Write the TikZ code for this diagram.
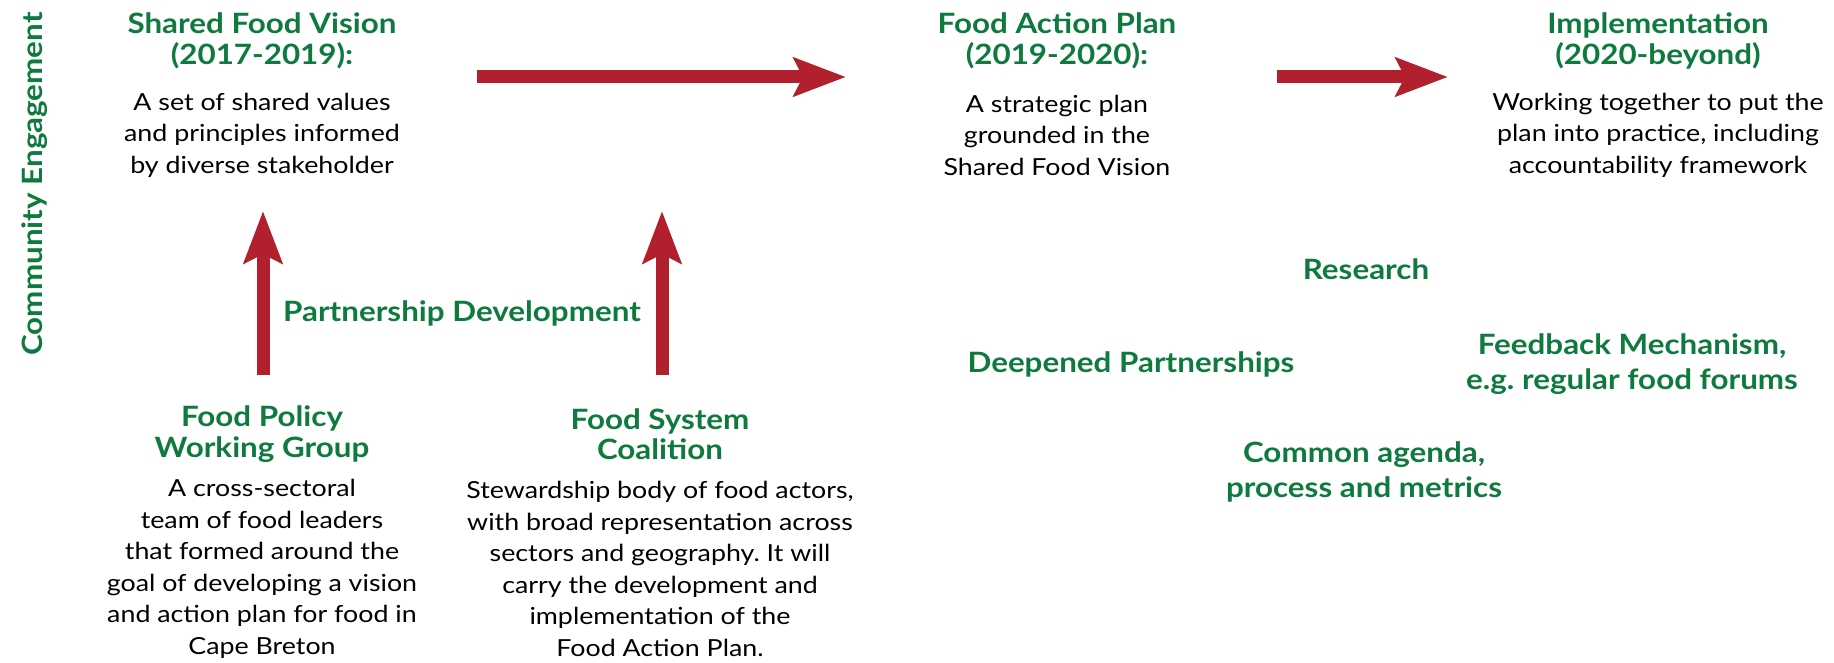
\documentclass[tikz,border=0pt]{standalone}
\usepackage{fontspec}
\setmainfont{Lato}
\newfontfamily\bodyfont[FakeStretch=1.14]{Lato}
\newfontfamily\headfont[FakeStretch=1.12]{Lato Bold}
\usetikzlibrary{arrows.meta}
\definecolor{leaf}{RGB}{14,122,62}
\definecolor{brick}{RGB}{178,32,46}
\frenchspacing
\tikzset{
  head/.style={font=\headfont\fontsize{28}{30.5}\selectfont, text=leaf, align=center, inner sep=0pt},
  looshead/.style={head, font=\headfont\fontsize{28}{35.5}\selectfont},
  body/.style={font=\bodyfont\fontsize{23.5}{31.5}\selectfont, text=black, align=center, inner sep=0pt},
  flow/.style={draw=brick, line width=13pt,
    -{Stealth[length=52pt, width=38pt, inset=9pt]}},
}
\begin{document}
\begin{tikzpicture}[x=1pt, y=-1pt]
\useasboundingbox (0,0) rectangle (1834,663);

% side label
\node[head, rotate=90] (ce) at (35,184) {Community Engagement};

% stage 1
\node[head] (sfv) at (262,41) {Shared Food Vision\\(2017-2019):};
\node[body] (sfvb) at (262,135) {A set of shared values\\and principles informed\\by diverse stakeholder};

% stage 2
\node[head] (fap) at (1057,41) {Food Action Plan\\(2019-2020):};
\node[body] (fapb) at (1057,135) {A strategic plan\\grounded in the\\Shared Food Vision};

% stage 3
\node[head] (imp) at (1658,41) {Implementation\\(2020-beyond)};
\node[body] (impb) at (1658,135) {Working together to put the\\plan into practice, including\\accountability framework};

% horizontal flow arrows
\coordinate (a1s) at (477,77);
\coordinate (a1e) at (846,77);
\coordinate (a2s) at (1277,77);
\coordinate (a2e) at (1448,77);
\draw[flow] (a1s) -- (a1e);
\draw[flow] (a2s) -- (a2e);

% partnership development
\node[head] (pd) at (462,313) {Partnership Development};
\coordinate (u1s) at (263,375);
\coordinate (u1e) at (263,211);
\coordinate (u2s) at (662,375);
\coordinate (u2e) at (662,211);
\draw[flow] (u1s) -- (u1e);
\draw[flow] (u2s) -- (u2e);

% bodies feeding the vision
\node[head] (fpwg) at (262,434) {Food Policy\\Working Group};
\node[body] (fpwgb) at (262,569) {A cross-sectoral\\team of food leaders\\that formed around the\\goal of developing a vision\\and action plan for food in\\Cape Breton};
\node[head] (fsc) at (660,434) {Food System\\Coalition};
\node[body] (fscb) at (660,569) {Stewardship body of food actors,\\with broad representation across\\sectors and geography. It will\\carry the development and\\implementation of the\\Food Action Plan.};

% implementation elements
\node[head] (res) at (1366,269) {Research};
\node[head] (dp) at (1131,364) {Deepened Partnerships};
\node[looshead] (fm) at (1632,364) {Feedback Mechanism,\\e.g. regular food forums};
\node[looshead] (ca) at (1364,472) {Common agenda,\\process and metrics};
\end{tikzpicture}
\end{document}
